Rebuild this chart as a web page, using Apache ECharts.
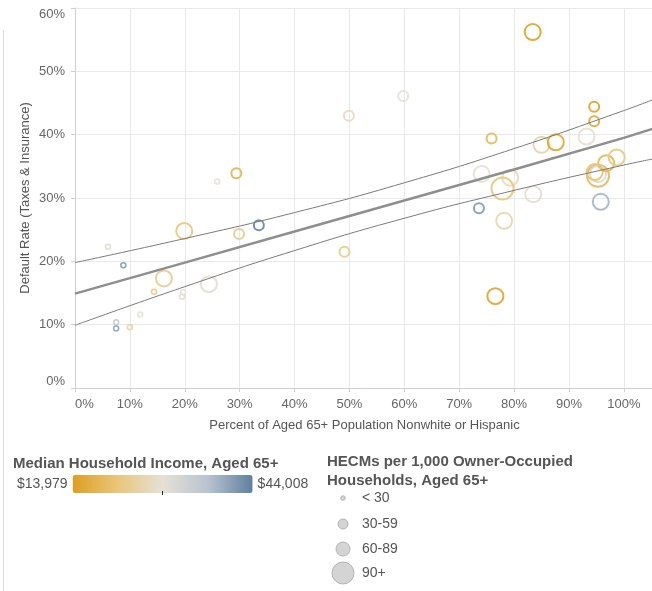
<!DOCTYPE html>
<html>
<head>
<meta charset="utf-8">
<title>Default rate vs. nonwhite population</title>
<script src="https://cdn.jsdelivr.net/npm/echarts@6/dist/echarts.min.js"></script>
<style>
    html, body { margin: 0; padding: 0; background: #fff; }
    #scatter_hecm { width: 652px; height: 591px; }
</style>
</head>
<body>
<div id="scatter_hecm"></div>
<script>

// Chart data
// ------------------------------

// Percent of aged 65+ population nonwhite or hispanic (x)
var pctNonwhite = [
    83.4, 59.8, 49.9, 94.6, 94.6, 75.9, 85.0, 87.6, 93.2, 74.1,
    79.3, 77.9, 83.5, 73.6, 78.2, 49.1, 76.6, 95.3, 95.3, 96.8,
    98.7, 95.8, 29.4, 25.9, 33.5, 29.9, 19.9, 6.0, 8.8, 16.2,
    14.4, 24.4, 19.5, 19.7, 11.9, 7.5, 7.5, 10.0, 94.7
];

// Default rate, taxes & insurance (y)
var defaultRate = [
    56.2, 46.1, 43.0, 44.4, 42.1, 39.4, 38.4, 38.8, 39.7, 33.8,
    33.2, 31.5, 30.6, 28.4, 26.4, 21.5, 14.5, 33.5, 33.8, 35.5,
    36.4, 29.4, 33.9, 32.6, 25.7, 24.3, 24.8, 22.3, 19.4, 17.3,
    15.2, 16.4, 14.4, 15.1, 11.6, 10.4, 9.4, 9.6, 34.1
];

// Median household income, aged 65+ (colour)
var medianIncome = [
    15000, 29000, 27000, 15000, 16000, 19000, 25500, 15500, 28500, 29000,
    27000, 22000, 29500, 41000, 26000, 23000, 15500, 19000, 31000, 19000,
    22000, 38000, 18000, 29000, 43000, 23000, 22000, 30000, 41000, 23500,
    22500, 29500, 30000, 29000, 29000, 35000, 40000, 25000, 21000
];

// HECMs per 1,000 owner-occupied households, aged 65+ (size)
var hecmRate = [
    75, 45, 45, 45, 45, 45, 75, 75, 75, 75,
    75, 100, 75, 45, 75, 45, 75, 100, 75, 75,
    75, 75, 45, 20, 45, 45, 75, 20, 20, 75,
    20, 75, 20, 20, 20, 20, 20, 20, 75
];

// Trend line with its confidence bands
var trendX = [0, 20, 40, 60, 80, 100, 105.5];
var trendMid = [14.9, 19.8, 24.7, 29.6, 34.5, 39.5, 41.0];
var trendUpper = [19.8, 23.6, 27.7, 32.4, 37.8, 43.8, 45.6];
var trendLower = [9.9, 16.0, 21.7, 26.8, 31.2, 35.2, 36.2];

// Legend labels
var hecmBuckets = ['< 30', '30-59', '60-89', '90+'];
var hecmBreaks = [30, 60, 90];
var incomeMin = 13979;
var incomeMax = 44008;


// Setup module
// ------------------------------

var EchartsScatterHecm = function () {

    var fontFamily = '"Liberation Sans", Arial, sans-serif';
    var textCol = '#666';
    var titleCol = '#555';

    // Marker diameter per HECM bucket
    var bucketSizes = [5, 10, 16, 22];

    var bucketOf = function (v) {
        var i = 0;
        while (i < hecmBreaks.length && v >= hecmBreaks[i]) i++;
        return i;
    };

    var sizeFor = function (v) {
        return bucketSizes[bucketOf(v)];
    };

    var pctLabel = function (v) {
        return Math.abs(v - Math.round(v / 10) * 10) < 0.01 ? Math.round(v) + '%' : '';
    };

    var pairs = function (xs, ys) {
        return xs.map(function (x, i) { return [x, ys[i]]; });
    };

    var _scatterHecm = function () {
        if (typeof echarts == 'undefined') {
            console.warn('Warning - echarts.min.js is not loaded.');
            return;
        }

        var element = document.getElementById('scatter_hecm');
        if (!element) return;

        var chart = echarts.init(element, null, { renderer: 'canvas' });

        // Points as [x, y, income, hecm]
        var points = pctNonwhite.map(function (x, i) {
            return [x, defaultRate[i], medianIncome[i], hecmRate[i]];
        });

        // Size legend (drawn as graphics)
        var sizeLegendY = [498, 524, 549, 573];
        var legendDiam = [4.5, 10, 14, 22];
        var sizeLegend = [];
        hecmBuckets.forEach(function (label, i) {
            sizeLegend.push({
                type: 'circle',
                shape: { cx: 343, cy: sizeLegendY[i], r: legendDiam[i] / 2 },
                style: { fill: '#d4d4d4', stroke: '#b4b4b4', lineWidth: 1 }
            });
            sizeLegend.push({
                type: 'text',
                x: 362,
                y: sizeLegendY[i],
                style: {
                    text: label,
                    font: '14px ' + fontFamily,
                    fill: titleCol,
                    verticalAlign: 'middle'
                }
            });
        });

        chart.setOption({

            animation: false,
            backgroundColor: '#fff',

            textStyle: {
                fontFamily: fontFamily,
                fontSize: 13
            },

            title: [
                {
                    text: 'Median Household Income, Aged 65+',
                    left: 8,
                    top: 451,
                    textStyle: { fontSize: 15, fontWeight: 'bold', color: titleCol, fontFamily: fontFamily }
                },
                {
                    text: 'HECMs per 1,000 Owner-Occupied\nHouseholds, Aged 65+',
                    left: 322,
                    top: 447,
                    textStyle: { fontSize: 15, fontWeight: 'bold', color: titleCol, lineHeight: 19, fontFamily: fontFamily }
                }
            ],

            grid: {
                left: 75,
                right: -2,
                top: 8,
                bottom: 203,
                outerBoundsMode: 'none',
                containLabel: false
            },

            xAxis: {
                type: 'value',
                min: 0,
                max: 105.5,
                interval: 10,
                name: 'Percent of Aged 65+ Population Nonwhite or Hispanic',
                nameLocation: 'middle',
                nameGap: 31,
                nameMoveOverlap: false,
                nameTextStyle: { color: titleCol, fontSize: 13 },
                axisLine: { show: true, lineStyle: { color: '#cfcfcf' } },
                axisTick: { show: true, length: 4, lineStyle: { color: '#cfcfcf' } },
                axisLabel: {
                    color: textCol,
                    fontSize: 13,
                    margin: 10,
                    alignMinLabel: 'left',
                    formatter: pctLabel
                },
                splitLine: { lineStyle: { color: '#e9e9e9' } }
            },

            yAxis: {
                type: 'value',
                min: 0,
                max: 60,
                interval: 10,
                name: 'Default Rate (Taxes & Insurance)',
                nameLocation: 'middle',
                nameGap: 43,
                nameMoveOverlap: false,
                nameTextStyle: { color: titleCol, fontSize: 13 },
                axisLine: { show: true, lineStyle: { color: '#cfcfcf' } },
                axisTick: { show: true, length: 4, lineStyle: { color: '#cfcfcf' } },
                axisLabel: {
                    color: textCol,
                    fontSize: 13,
                    margin: 10,
                    verticalAlignMinLabel: 'bottom',
                    verticalAlignMaxLabel: 'top',
                    formatter: pctLabel
                },
                splitLine: { lineStyle: { color: '#e9e9e9' } }
            },

            // Income colour scale
            visualMap: {
                type: 'continuous',
                seriesIndex: 0,
                dimension: 2,
                min: incomeMin,
                max: incomeMax,
                calculable: false,
                orient: 'horizontal',
                left: 2,
                top: 460,
                itemWidth: 18,
                itemHeight: 180,
                textGap: 5,
                text: ['$44,008', '$13,979'],
                textStyle: { color: titleCol, fontSize: 14, fontFamily: fontFamily },
                inRange: {
                    color: ['#DE9F22', '#E9C67A', '#E6E0D6', '#B9C4D0', '#5F7FA0']
                }
            },

            graphic: [
                // panel edge on the left
                {
                    type: 'line',
                    shape: { x1: 3.5, y1: 30, x2: 3.5, y2: 591 },
                    style: { stroke: '#dcdcdc', lineWidth: 1 },
                    silent: true
                },
                // midpoint mark under the colour bar
                {
                    type: 'line',
                    shape: { x1: 162.5, y1: 491, x2: 162.5, y2: 495 },
                    style: { stroke: '#222', lineWidth: 1 },
                    silent: true,
                    z: 100
                }
            ].concat(sizeLegend),

            series: [
                // Counties
                {
                    type: 'custom',
                    name: 'Counties',
                    data: points,
                    encode: { x: 0, y: 1 },
                    z: 2,
                    renderItem: function (params, api) {
                        var c = api.coord([api.value(0), api.value(1)]);
                        var d = sizeFor(api.value(3));
                        return {
                            type: 'circle',
                            shape: { cx: c[0], cy: c[1], r: d / 2 },
                            style: {
                                fill: 'none',
                                stroke: api.visual('color'),
                                lineWidth: d < 8 ? 1.5 : 2,
                                opacity: 0.92
                            }
                        };
                    }
                },
                // Trend line
                {
                    type: 'line',
                    name: 'Trend',
                    data: pairs(trendX, trendMid),
                    showSymbol: false,
                    silent: true,
                    z: 4,
                    lineStyle: { color: '#8e8e8e', width: 2.5 }
                },
                // Upper band
                {
                    type: 'line',
                    name: 'Upper',
                    data: pairs(trendX, trendUpper),
                    smooth: true,
                    showSymbol: false,
                    silent: true,
                    z: 4,
                    lineStyle: { color: '#7a7a7a', width: 1 }
                },
                // Lower band
                {
                    type: 'line',
                    name: 'Lower',
                    data: pairs(trendX, trendLower),
                    smooth: true,
                    showSymbol: false,
                    silent: true,
                    z: 4,
                    lineStyle: { color: '#7a7a7a', width: 1 }
                }
            ]
        });

        window.addEventListener('resize', function () {
            chart.resize();
        });
    };

    return {
        init: function () {
            _scatterHecm();
        }
    };
}();


// Initialize module
// ------------------------------

EchartsScatterHecm.init();

</script>
</body>
</html>
